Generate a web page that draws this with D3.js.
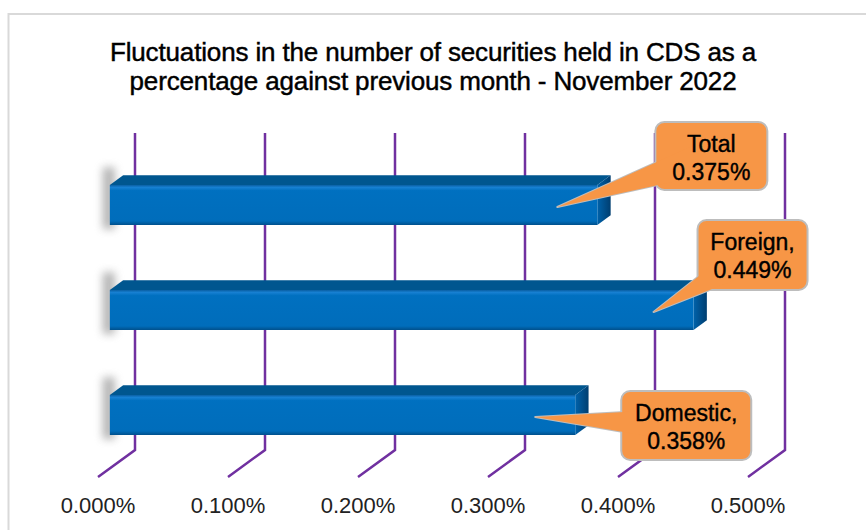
<!DOCTYPE html>
<html lang="en">
<head>
  <meta charset="UTF-8">
  <title>CDS securities fluctuations - November 2022</title>
  <style>
    body { margin: 0; background: #fff; }
    svg { display: block; font-family: "Liberation Sans", Arial, sans-serif; }
  </style>
</head>
<body>
  <svg class="chart"></svg>
  <script src="https://cdn.jsdelivr.net/npm/d3@7/dist/d3.min.js"></script>
  <script>
    // data
    var categories = ["Total", "Foreign", "Domestic"];
    var values = [0.375, 0.449, 0.358];
    var labelLines = [["Total", "0.375%"], ["Foreign,", "0.449%"], ["Domestic,", "0.358%"]];
    var tickValues = [0, 0.1, 0.2, 0.3, 0.4, 0.5];
    var tickLabels = ["0.000%", "0.100%", "0.200%", "0.300%", "0.400%", "0.500%"];
    var titleLines = ["Fluctuations in the number of securities held in CDS as a",
                      "percentage against previous month - November 2022"];

    // callout placement relative to the bar end / bar middle
    var calloutLayout = [
      { dx: 58, dy: -83, w: 112, h: 68 },
      { dx: 4, dy: -90, w: 110, h: 70 },
      { dx: 46, dy: -24, w: 130, h: 69 }
    ];

    var w = 866, h = 530,
        wallTop = 133, floorBack = 450,
        depthX = 37, depthY = -27,   // full depth offset front -> back
        barT0 = 0.32, barT1 = 0.68,  // bar depth range
        barH = 40;

    var svg = d3.select(".chart").attr("width", w).attr("height", h);

    var defs = svg.append("defs");
    var blur = defs.append("filter").attr("id", "blur")
      .attr("x", "-200%").attr("y", "-50%").attr("width", "500%").attr("height", "200%");
    blur.append("feGaussianBlur").attr("stdDeviation", 4);

    var gFront = defs.append("linearGradient").attr("id", "front")
      .attr("x1", 0).attr("y1", 0).attr("x2", 0).attr("y2", 1);
    gFront.append("stop").attr("offset", "0%").attr("stop-color", "#0a5fa3");
    gFront.append("stop").attr("offset", "6%").attr("stop-color", "#1780d2");
    gFront.append("stop").attr("offset", "14%").attr("stop-color", "#0070c0");
    gFront.append("stop").attr("offset", "90%").attr("stop-color", "#006dbb");
    gFront.append("stop").attr("offset", "100%").attr("stop-color", "#00508c");

    var gSide = defs.append("linearGradient").attr("id", "side")
      .attr("x1", 0).attr("y1", 0).attr("x2", 1).attr("y2", 0);
    gSide.append("stop").attr("offset", "0%").attr("stop-color", "#0062aa");
    gSide.append("stop").attr("offset", "100%").attr("stop-color", "#003e70");

    // outer border
    svg.append("rect")
      .attr("x", 8.5).attr("y", 14).attr("width", w + 10).attr("height", h + 10)
      .attr("fill", "none").attr("stroke", "#d9d9d9").attr("stroke-width", 2);

    // title
    svg.append("g").selectAll("text")
      .data(titleLines)
      .enter()
      .append("text")
        .attr("x", 433)
        .attr("y", (d, i) => 61 + i * 29)
        .attr("text-anchor", "middle")
        .attr("font-size", 26)
        .attr("letter-spacing", -0.15)
        .attr("fill", "#000")
        .attr("stroke", "#000")
        .attr("stroke-width", 0.45)
        .text(d => d);

    var x = d3.scaleLinear().domain([0, 0.5]).range([98, 748]);
    var y = d3.scalePoint().domain(categories).range([205, 415]);

    // back wall + floor gridlines
    var grid = svg.append("g");
    grid.selectAll("path")
      .data(tickValues)
      .enter()
      .append("path")
        .attr("d", d => {
          var xb = x(d) + depthX;
          return "M" + xb + "," + wallTop + "V" + floorBack + "L" + x(d) + "," + (floorBack - depthY);
        })
        .attr("fill", "none")
        .attr("stroke", "#7030a0")
        .attr("stroke-width", 2.5);

    // axis labels
    svg.append("g").selectAll("text")
      .data(tickValues)
      .enter()
      .append("text")
        .attr("x", d => x(d))
        .attr("y", 513)
        .attr("text-anchor", "middle")
        .attr("font-size", 22)
        .attr("fill", "#222")
        .text((d, i) => tickLabels[i]);

    // 3d bars
    var bars = categories.map((c, i) => {
      var x0 = x(0) + depthX * barT0,
          x1 = x(values[i]) + depthX * barT0,
          top = y(c) - barH / 2,
          ox = depthX * (barT1 - barT0),
          oy = depthY * (barT1 - barT0);
      return { x0: x0, x1: x1, top: top, ox: ox, oy: oy, mid: y(c) };
    });

    var gb = svg.append("g");
    // soft shadow at the left end
    gb.selectAll("rect.shadow")
      .data(bars)
      .enter()
      .append("rect")
        .attr("class", "shadow")
        .attr("x", d => d.x0 - 7)
        .attr("y", d => d.top + d.oy - 8)
        .attr("width", 12)
        .attr("height", d => barH - d.oy + 12)
        .attr("fill", "#777")
        .attr("opacity", 0.55)
        .attr("filter", "url(#blur)");

    gb.selectAll("path.top")
      .data(bars)
      .enter()
      .append("path")
        .attr("class", "top")
        .attr("d", d => "M" + d.x0 + "," + d.top + "L" + (d.x0 + d.ox) + "," + (d.top + d.oy) +
          "H" + (d.x1 + d.ox) + "L" + d.x1 + "," + d.top + "Z")
        .attr("fill", "#00568f");

    gb.selectAll("path.side")
      .data(bars)
      .enter()
      .append("path")
        .attr("class", "side")
        .attr("d", d => "M" + d.x1 + "," + d.top + "L" + (d.x1 + d.ox) + "," + (d.top + d.oy) +
          "V" + (d.top + barH + d.oy) + "L" + d.x1 + "," + (d.top + barH) + "Z")
        .attr("fill", "url(#side)");

    gb.selectAll("rect.front")
      .data(bars)
      .enter()
      .append("rect")
        .attr("class", "front")
        .attr("x", d => d.x0)
        .attr("y", d => d.top)
        .attr("width", d => d.x1 - d.x0)
        .attr("height", barH)
        .attr("fill", "url(#front)");

    // callouts
    var orange = "#f79646", edge = "#bdbdbd";
    var callouts = bars.map((b, i) => {
      var L = calloutLayout[i];
      var bx = b.x1 + L.dx, by = b.mid + L.dy;
      var cx = bx + L.w / 2, cy = by + L.h / 2;
      var tx = b.x1 - 40, ty = b.mid + 2;
      var vx = cx - tx, vy = cy - ty, len = Math.sqrt(vx * vx + vy * vy);
      var px = -vy / len * 17, py = vx / len * 17;
      return { bx: bx, by: by, w: L.w, h: L.h, cx: cx,
        wedge: [[tx, ty], [cx + px, cy + py], [cx - px, cy - py]], lines: labelLines[i] };
    });

    var gc = svg.append("g");
    var line = d3.line();
    gc.selectAll("path.wedge")
      .data(callouts)
      .enter()
      .append("path")
        .attr("d", d => line(d.wedge) + "Z")
        .attr("fill", orange)
        .attr("stroke", edge)
        .attr("stroke-width", 2)
        .attr("stroke-linejoin", "round");
    gc.selectAll("rect")
      .data(callouts)
      .enter()
      .append("rect")
        .attr("x", d => d.bx)
        .attr("y", d => d.by)
        .attr("width", d => d.w)
        .attr("height", d => d.h)
        .attr("rx", 9)
        .attr("fill", orange)
        .attr("stroke", edge)
        .attr("stroke-width", 2);
    gc.selectAll("path.cover")
      .data(callouts)
      .enter()
      .append("path")
        .attr("d", d => line(d.wedge) + "Z")
        .attr("fill", orange);

    gc.selectAll("text")
      .data(callouts)
      .enter()
      .append("text")
        .attr("x", d => d.cx)
        .attr("y", d => d.by)
        .attr("text-anchor", "middle")
        .attr("font-size", 23)
        .attr("fill", "#000")
        .attr("stroke", "#000")
        .attr("stroke-width", 0.4)
        .selectAll("tspan")
        .data(d => d.lines.map((t, k) => ({ t: t, k: k, cx: d.cx, by: d.by })))
        .enter()
        .append("tspan")
          .attr("x", d => d.cx)
          .attr("y", d => d.by + 30 + d.k * 28)
          .text(d => d.t);
  </script>
</body>
</html>
